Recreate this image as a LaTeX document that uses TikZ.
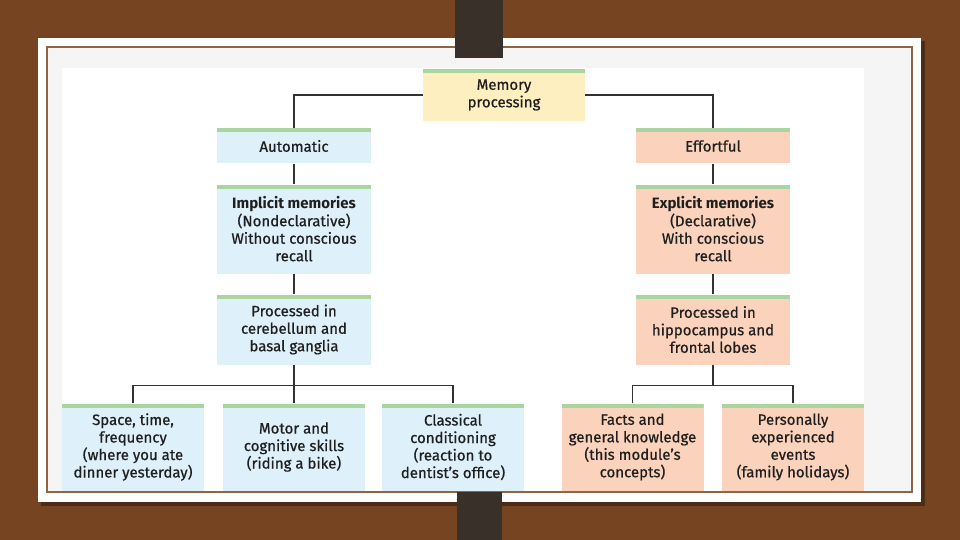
\documentclass[tikz,border=0pt]{standalone}
\usepackage{fontspec}
\setmainfont{Fira Sans}[UprightFeatures={FakeBold=0.7}]
\usepackage{tikz}

\definecolor{wood}{RGB}{118,68,32}
\definecolor{frame}{RGB}{140,100,70}
\definecolor{paper}{RGB}{245,245,245}
\definecolor{strap}{RGB}{58,48,42}
\definecolor{bar}{RGB}{170,212,160}
\definecolor{autoblue}{RGB}{222,240,250}
\definecolor{effpeach}{RGB}{251,210,188}
\definecolor{memyellow}{RGB}{253,239,192}
\definecolor{linecol}{RGB}{50,50,50}

\begin{document}
\begin{tikzpicture}[x=1pt, y=-1pt,
    every node/.style={font=\fontsize{15}{17.5}\selectfont, text=black!88},
    box/.style={align=center, inner sep=0pt, minimum width=154pt,
        path picture={\fill[bar] (path picture bounding box.north west) rectangle ([yshift=-4pt]path picture bounding box.north east);}},
    leaf/.style={box, minimum width=142pt, minimum height=87pt},
    link/.style={draw=linecol, line width=1.4pt}]
    \useasboundingbox (0,0) rectangle (960,540);
    % table, card and straps
    \fill[wood] (0,0) rectangle (960,540);
    \fill[black, opacity=.35] (41,41) rectangle (925,506);
    \fill[white] (38,38) rectangle (921,502);
    \fill[paper] (48,48) rectangle (911,492);
    \draw[frame, line width=2pt] (47,47) rectangle (912,492);
    \fill[white] (62,68) rectangle (864,491);
    \fill[strap] (455,0) rectangle (503,58);
    \fill[strap] (457,492) rectangle (502,540);

    \node[box, fill=memyellow, minimum width=162pt, minimum height=52pt] (mem) at (504,95) {Memory\\processing};
    \node[box, fill=autoblue, minimum height=35pt] (auto) at (294,146) {Automatic};
    \node[box, fill=effpeach, minimum height=35pt] (eff) at (713,146) {Effortful};
    \node[box, fill=autoblue, minimum height=89pt] (impl) at (294,229) {\textbf{Implicit memories}\\(Nondeclarative)\\Without conscious\\recall};
    \node[box, fill=effpeach, minimum height=89pt] (expl) at (713,229) {\textbf{Explicit memories}\\(Declarative)\\With conscious\\recall};
    \node[box, fill=autoblue, minimum height=70pt] (cereb) at (294,329.5) {Processed in\\cerebellum and\\basal ganglia};
    \node[box, fill=effpeach, minimum height=70pt] (hippo) at (713,329.5) {Processed in\\hippocampus and\\frontal lobes};
    \node[leaf, fill=autoblue] (space) at (133,447) {Space, time,\\frequency\\(where you ate\\dinner yesterday)};
    \node[leaf, fill=autoblue] (motor) at (294,447) {Motor and\\cognitive skills\\(riding a bike)};
    \node[leaf, fill=autoblue] (classic) at (453,447) {Classical\\conditioning\\(reaction to\\dentist's office)};
    \node[leaf, fill=effpeach] (facts) at (632.5,447) {Facts and\\general knowledge\\(this module's\\concepts)};
    \node[leaf, fill=effpeach] (events) at (793,447) {Personally\\experienced\\events\\(family holidays)};

    \draw[link] (mem.west) -| (auto.north);
    \draw[link] (mem.east) -| (eff.north);
    \draw[link] (auto) -- (impl);
    \draw[link] (impl) -- (cereb);
    \draw[link] (eff) -- (expl);
    \draw[link] (expl) -- (hippo);
    \draw[link] (cereb) -- (motor);
    \draw[link] (space.north) -- ++(0,-18) -| (classic.north);
    \draw[link] (hippo.south) -- ++(0,21);
    \draw[link] (facts.north) -- ++(0,-18) -| (events.north);
\end{tikzpicture}
\end{document}
